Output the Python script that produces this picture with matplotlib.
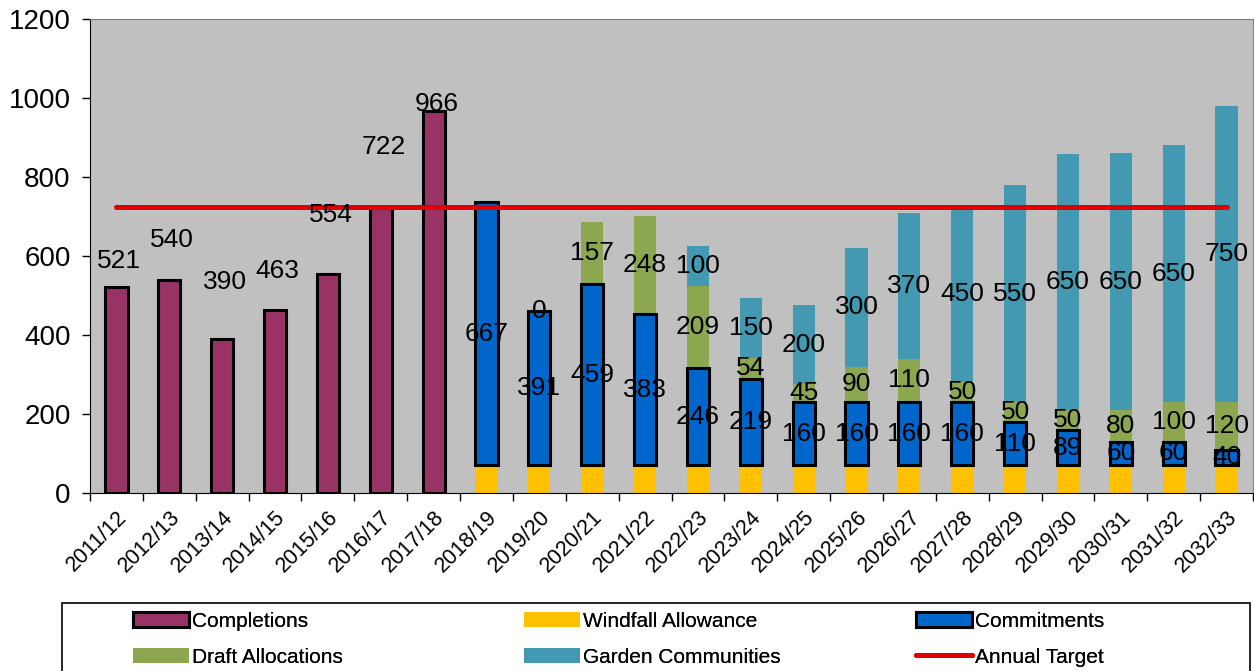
import numpy as np
from matplotlib import pyplot as plt
from matplotlib.patches import Rectangle

plt.rcParams['font.family'] = ['Liberation Sans', 'DejaVu Sans']

years = ["2011/12", "2012/13", "2013/14", "2014/15", "2015/16", "2016/17", "2017/18",
         "2018/19", "2019/20", "2020/21", "2021/22", "2022/23", "2023/24", "2024/25",
         "2025/26", "2026/27", "2027/28", "2028/29", "2029/30", "2030/31", "2031/32",
         "2032/33"]

completions = [521, 540, 390, 463, 554, 722, 966]
# extra height of the completion labels above each bar (as in the source chart)
completion_label_lift = [66, 100, 144, 99, 150, 154, 19]

windfall = [70] * 15
commitments = [667, 391, 459, 383, 246, 219, 160, 160, 160, 160, 110, 89, 60, 60, 40]
draft = [0, 0, 157, 248, 209, 54, 45, 90, 110, 50, 50, 50, 80, 100, 120]
garden = [0, 0, 0, 0, 100, 150, 200, 300, 370, 450, 550, 650, 650, 650, 750]
annual_target = 724

c_compl = "#993366"
c_wind = "#FFC000"
c_comm = "#0066CC"
c_draft = "#8DA750"
c_garden = "#4499B2"
c_target = "#E00000"

W, H = 1254, 671
fig = plt.figure(figsize=(W / 100, H / 100), dpi=100)
ax = fig.add_axes([90 / W, 1 - 493 / H, 1163 / W, 474 / H])
ax.set_facecolor("#C0C0C0")

x = np.arange(len(years))
n_c = len(completions)
xc = x[:n_c]
xf = x[n_c:]
w = 0.42
lab_fs = 19

ax.bar(xc, completions, w, color=c_compl, edgecolor="black", linewidth=2.2,
       label="Completions", zorder=2)
for xi, v, lift in zip(xc, completions, completion_label_lift):
    ax.text(xi + 0.05, v + lift, str(v), ha="center", va="center", fontsize=lab_fs,
            zorder=5)

wind = np.array(windfall)
comm = np.array(commitments)
dr = np.array(draft)
gd = np.array(garden)

ax.bar(xf, wind, w, color=c_wind, label="Windfall Allowance", zorder=2)
ax.bar(xf, comm, w, bottom=wind, color=c_comm, edgecolor="black", linewidth=2.2,
       label="Commitments", zorder=3)
ax.bar(xf, dr, w, bottom=wind + comm, color=c_draft, label="Draft Allocations", zorder=2)
ax.bar(xf, gd, w, bottom=wind + comm + dr, color=c_garden, label="Garden Communities",
       zorder=2)

for i, xi in enumerate(xf):
    ax.text(xi, wind[i] + comm[i] / 2, str(comm[i]), ha="center", va="center",
            fontsize=lab_fs, zorder=5)
    if i >= 1:
        ax.text(xi, wind[i] + comm[i] + dr[i] / 2, str(dr[i]), ha="center",
                va="center", fontsize=lab_fs, zorder=5)
    if gd[i] > 0:
        ax.text(xi, wind[i] + comm[i] + dr[i] + gd[i] / 2, str(gd[i]), ha="center",
                va="center", fontsize=lab_fs, zorder=5)

ax.plot([x[0], x[-1]], [annual_target, annual_target], color=c_target, linewidth=3.6,
        solid_capstyle="round", label="Annual Target", zorder=4)

ax.set_xlim(-0.5, len(years) - 0.5)
ax.set_ylim(0, 1200)
ax.set_yticks(range(0, 1201, 200))
ax.tick_params(axis="y", labelsize=20, direction="out", length=6, width=1, pad=8)
ax.set_xticks(x)
ax.set_xticklabels(years, rotation=45, ha="right", rotation_mode="anchor", fontsize=15.5)
ax.set_xticks(np.arange(-0.5, len(years), 1), minor=True)
ax.tick_params(axis="x", which="major", length=0, pad=10)
ax.tick_params(axis="x", which="minor", length=6, width=1)
for s in ["left", "bottom"]:
    ax.spines[s].set_color("black")
for s in ["top", "right"]:
    ax.spines[s].set_color("#808080")

# legend box, then one legend per column
fig.patches.append(Rectangle((62 / W, -0.01), 1188 / W, (H - 603) / H + 0.01,
                             transform=fig.transFigure, facecolor="white",
                             edgecolor="black", linewidth=1.2, zorder=0))
h, l = ax.get_legend_handles_labels()
hd = dict(zip(l, h))
columns = [["Completions", "Draft Allocations"],
           ["Windfall Allowance", "Garden Communities"],
           ["Commitments", "Annual Target"]]
col_x = [133, 524, 916]
for names, cx in zip(columns, col_x):
    leg = fig.legend([hd[k] for k in names], names, loc="upper left",
                     bbox_to_anchor=(cx / W, 1 - 612 / H), frameon=False,
                     fontsize=15, handlelength=2.7, handleheight=0.75,
                     handletextpad=0.15, borderpad=0, borderaxespad=0,
                     labelspacing=0.8)
    fig.add_artist(leg)

fig.savefig("out.png", dpi=100)
